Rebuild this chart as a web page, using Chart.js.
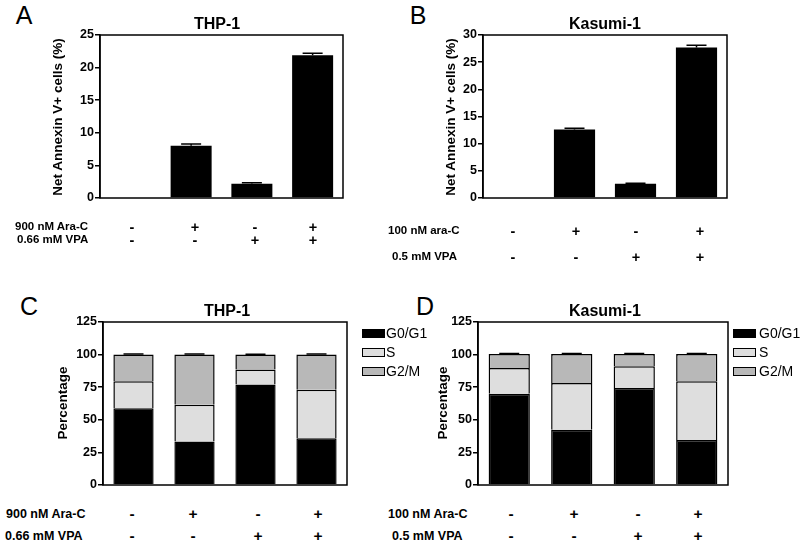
<!DOCTYPE html>
<html>
<head>
<meta charset="utf-8">
<script src="https://cdn.jsdelivr.net/npm/chart.js@4"></script>
<style>
  body { margin: 0; background: #fff; }
  #fig { position: relative; width: 800px; height: 545px; font-family: "Liberation Sans", Arial, sans-serif; color: #000; }
  .box { position: absolute; }
  .t { position: absolute; white-space: nowrap; line-height: 1; }
  .sw { position: absolute; border: 1.5px solid #000; box-sizing: border-box; }
</style>
</head>
<body>
<div id="fig"></div>
<script>
// data
const groups = ['Ctrl', 'Ara-C', 'VPA', 'Ara-C+VPA'];
const araC = ['-', '+', '-', '+'];
const vpa = ['-', '-', '+', '+'];

const annexinTHP1 = [0, 8.0, 2.2, 21.9];
const annexinTHP1Err = [0, 0.3, 0.12, 0.3];
const annexinKasumi = [0, 12.6, 2.6, 27.7];
const annexinKasumiErr = [0, 0.25, 0.12, 0.4];

const phases = ['G0/G1', 'S', 'G2/M'];
const phaseColors = ['#000000', '#dedede', '#b8b8b8'];
const cycleTHP1_G0G1 = [58.9, 33.3, 77.0, 35.9];
const cycleTHP1_S = [20.6, 28.2, 11.5, 37.1];
const cycleTHP1_G2M = [20.5, 38.5, 11.5, 27.0];
const cycleKasumi_G0G1 = [70.0, 42.3, 74.4, 34.6];
const cycleKasumi_S = [19.7, 35.9, 16.6, 44.9];
const cycleKasumi_G2M = [10.8, 22.3, 9.5, 21.0];
const cycleErr = [0.4, 0.4, 0.3, 0.4];

const fig = document.getElementById('fig');
const FONT = '"Liberation Sans", Arial, sans-serif';

function text(str, x, y, opts) {
  opts = opts || {};
  const el = document.createElement('div');
  el.className = 't';
  el.textContent = str;
  el.style.fontSize = (opts.size || 12) + 'px';
  el.style.fontWeight = opts.bold === false ? 'normal' : 'bold';
  el.style.left = x + 'px';
  el.style.top = y + 'px';
  let tf = opts.left ? 'translate(0,-50%)' : 'translate(-50%,-50%)';
  if (opts.rotate) tf += ' rotate(-90deg)';
  el.style.transform = tf;
  fig.appendChild(el);
}

// frame round the plot area + error bars on top of the (stacked) bars
const framePlugin = {
  id: 'frame',
  afterDatasetsDraw(chart, args, opts) {
    const ctx = chart.ctx;
    const a = chart.chartArea;
    const ys = chart.scales.y;
    ctx.save();
    ctx.strokeStyle = '#000';
    ctx.lineWidth = 1.5;
    if (opts.err) {
      const last = chart.getDatasetMeta(chart.data.datasets.length - 1);
      last.data.forEach((bar, i) => {
        if (!opts.err[i]) return;
        let top = 0;
        chart.data.datasets.forEach(ds => top += ds.data[i]);
        const y0 = ys.getPixelForValue(top);
        const y1 = ys.getPixelForValue(top + opts.err[i]);
        ctx.beginPath();
        ctx.moveTo(bar.x, y0); ctx.lineTo(bar.x, y1);
        ctx.moveTo(bar.x - 10, y1); ctx.lineTo(bar.x + 10, y1);
        ctx.stroke();
      });
    }
    ctx.strokeRect(a.left, a.top, a.right - a.left, a.bottom - a.top);
    ctx.restore();
  }
};

function makeChart(area, datasets, yMax, yStep, barPct, err) {
  const padL = 40, pad = 10;
  const div = document.createElement('div');
  div.className = 'box';
  div.style.left = (area.left - padL) + 'px';
  div.style.top = (area.top - pad) + 'px';
  div.style.width = (area.right - area.left + padL + pad) + 'px';
  div.style.height = (area.bottom - area.top + 2 * pad) + 'px';
  const cv = document.createElement('canvas');
  div.appendChild(cv);
  fig.appendChild(div);
  return new Chart(cv, {
    type: 'bar',
    data: {
      labels: groups,
      datasets: datasets.map(d => Object.assign({
        borderColor: '#000',
        categoryPercentage: 1,
        barPercentage: barPct
      }, d))
    },
    options: {
      responsive: true,
      maintainAspectRatio: false,
      animation: false,
      layout: { padding: { top: pad, right: pad, bottom: pad, left: 0 } },
      plugins: { legend: { display: false }, tooltip: { enabled: false }, frame: { err: err } },
      scales: {
        x: { display: false, stacked: true },
        y: {
          stacked: true,
          min: 0, max: yMax,
          afterFit(s) { s.width = padL; },
          border: { color: '#000', width: 1.5 },
          grid: { drawOnChartArea: false, color: '#000', lineWidth: 1.5, tickLength: 5 },
          ticks: { stepSize: yStep, color: '#000', padding: 1, font: { family: FONT, size: 12.5, weight: 'bold' } }
        }
      }
    },
    plugins: [framePlugin]
  });
}

// A
makeChart({ left: 100, right: 343, top: 35, bottom: 198 },
  [{ data: annexinTHP1, backgroundColor: '#000', borderWidth: 0 }], 25, 5, 0.675, annexinTHP1Err);
// B
makeChart({ left: 483, right: 727, top: 35, bottom: 198 },
  [{ data: annexinKasumi, backgroundColor: '#000', borderWidth: 0 }], 30, 5, 0.675, annexinKasumiErr);
// C
makeChart({ left: 103, right: 347, top: 322, bottom: 485 }, [
  { label: phases[0], data: cycleTHP1_G0G1, backgroundColor: phaseColors[0], borderWidth: 1.5 },
  { label: phases[1], data: cycleTHP1_S, backgroundColor: phaseColors[1], borderWidth: 1.5 },
  { label: phases[2], data: cycleTHP1_G2M, backgroundColor: phaseColors[2], borderWidth: 1.5 }
], 125, 25, 0.66, cycleErr);
// D
makeChart({ left: 478, right: 728, top: 322, bottom: 485 }, [
  { label: phases[0], data: cycleKasumi_G0G1, backgroundColor: phaseColors[0], borderWidth: 1.5 },
  { label: phases[1], data: cycleKasumi_S, backgroundColor: phaseColors[1], borderWidth: 1.5 },
  { label: phases[2], data: cycleKasumi_G2M, backgroundColor: phaseColors[2], borderWidth: 1.5 }
], 125, 25, 0.66, cycleErr);

// panel letters
text('A', 24, 15, { size: 25, bold: false });
text('B', 418, 15, { size: 25, bold: false });
text('C', 29, 306, { size: 25, bold: false });
text('D', 425, 306, { size: 25, bold: false });

// titles
text('THP-1', 217, 24, { size: 16 });
text('Kasumi-1', 605, 24, { size: 16 });
text('THP-1', 227, 311, { size: 16 });
text('Kasumi-1', 605, 311, { size: 16 });

// y axis titles
text('Net Annexin V+ cells (%)', 58, 117, { size: 13.5, rotate: true });
text('Net Annexin V+ cells (%)', 451, 117, { size: 13.5, rotate: true });
text('Percentage', 63, 403, { size: 13.5, rotate: true });
text('Percentage', 443, 403, { size: 13.5, rotate: true });

// legends
[[362, 386], [733, 759]].forEach(([sx, tx]) => {
  [333, 352, 371].forEach((y, i) => {
    const sw = document.createElement('div');
    sw.className = 'sw';
    sw.style.left = sx + 'px';
    sw.style.top = (y - 4) + 'px';
    sw.style.width = '23px';
    sw.style.height = '9px';
    sw.style.background = phaseColors[i];
    fig.appendChild(sw);
    text(phases[i], tx, y, { size: 14, bold: false, left: true });
  });
});

// treatment rows
function treatments(lab1, lab2, lx1, lx2, y1, y2, xs, size) {
  text(lab1, lx1, y1, { size: size, left: true });
  text(lab2, lx2, y2, { size: size, left: true });
  xs.forEach((x, i) => {
    text(araC[i], x, y1, { size: size + 3 });
    text(vpa[i], x, y2, { size: size + 3 });
  });
}
treatments('900 nM Ara-C', '0.66 mM VPA', 15, 17, 227, 240, [132, 195, 255, 313], 11.5);
treatments('100 nM ara-C', '0.5 mM VPA', 388, 392, 231, 257, [513, 576, 636, 700], 11.5);
treatments('900 nM Ara-C', '0.66 mM VPA', 6, 5, 514, 536, [132, 193, 258, 318], 12.5);
treatments('100 nM Ara-C', '0.5 mM VPA', 388, 392, 514, 536, [511, 574, 638, 698], 12.5);
</script>
</body>
</html>
